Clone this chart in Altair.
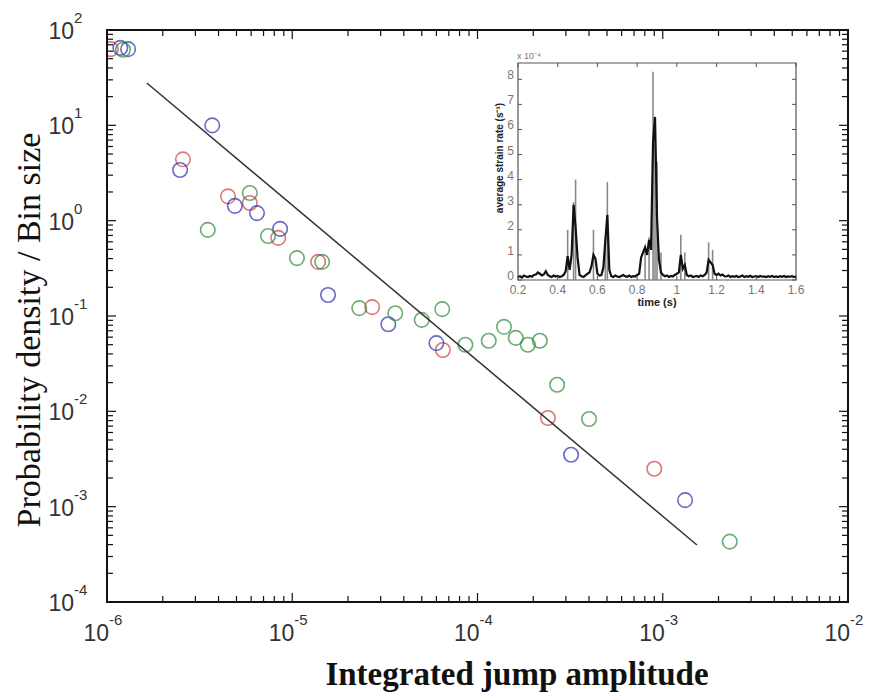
import altair as alt
import pandas as pd

# ---------------- main scatter data ----------------
red_x = [1.05e-6, 2.57e-6, 4.5e-6, 5.9e-6, 8.4e-6, 1.38e-5, 2.7e-5, 6.5e-5, 2.4e-4, 9.0e-4]
red_y = [63, 4.4, 1.8, 1.53, 0.66, 0.37, 0.124, 0.044, 0.0085, 0.0025]
blue_x = [1.18e-6, 1.3e-6, 3.7e-6, 2.48e-6, 4.9e-6, 6.45e-6, 8.6e-6, 1.56e-5, 3.3e-5, 6.0e-5, 3.2e-4, 1.32e-3]
blue_y = [65, 63, 10, 3.4, 1.43, 1.2, 0.82, 0.166, 0.082, 0.052, 0.0035, 0.00117]
green_x = [1.22e-6, 3.5e-6, 5.9e-6, 7.4e-6, 1.06e-5, 1.45e-5, 2.3e-5, 3.6e-5, 5.0e-5, 6.45e-5,
           8.6e-5, 1.15e-4, 1.39e-4, 1.61e-4, 1.87e-4, 2.17e-4, 2.69e-4, 4.0e-4, 2.3e-3]
green_y = [62, 0.8, 1.95, 0.69, 0.405, 0.37, 0.121, 0.107, 0.091, 0.118,
           0.05, 0.055, 0.077, 0.059, 0.05, 0.055, 0.019, 0.0083, 0.00043]
fit_x = [1.64e-6, 1.53e-3]
fit_y = [27.8, 3.96e-4]

x_major = [1e-6, 1e-5, 1e-4, 1e-3, 1e-2]
x_exp = ["-6", "-5", "-4", "-3", "-2"]
y_major = [1e-4, 1e-3, 1e-2, 1e-1, 1e0, 1e1, 1e2]
y_exp = ["-4", "-3", "-2", "-1", "0", "1", "2"]
mult = [2, 3, 4, 5, 6, 7, 8, 9]
x_minor = [m * d for d in [1e-6, 1e-5, 1e-4, 1e-3] for m in mult]
y_minor = [m * d for d in [1e-4, 1e-3, 1e-2, 1e-1, 1e0, 1e1] for m in mult]

# ---------------- inset data (x 1e-4) ----------------
inset_t = [round(0.2 + 0.01 * i, 2) for i in range(141)]
inset_black = [
    0.12, 0.15, 0.10, 0.18, 0.14, 0.12, 0.16, 0.13, 0.20, 0.22,
    0.30, 0.25, 0.18, 0.22, 0.35, 0.20, 0.15, 0.12, 0.18, 0.14,
    0.16, 0.12, 0.15, 0.20, 0.35, 0.95, 0.40, 1.00, 3.00, 2.10,
    0.90, 0.20, 0.15, 0.12, 0.18, 0.25, 0.30, 0.55, 1.00, 0.85,
    0.25, 0.18, 0.20, 0.50, 1.60, 2.60, 0.40, 0.15, 0.12, 0.18,
    0.14, 0.12, 0.16, 0.20, 0.15, 0.13, 0.18, 0.12, 0.15, 0.14,
    0.20, 0.25, 0.90, 1.10, 1.30, 1.00, 1.60, 1.20, 5.50, 6.50,
    2.50, 0.80, 0.30, 0.20, 0.15, 0.18, 0.12, 0.16, 0.14, 0.20,
    0.25, 0.30, 1.00, 0.45, 0.60, 0.20, 0.15, 0.18, 0.12, 0.14,
    0.16, 0.12, 0.18, 0.15, 0.20, 0.30, 0.80, 0.70, 0.60, 0.25,
    0.20, 0.25, 0.18, 0.22, 0.15, 0.14, 0.18, 0.12, 0.15, 0.13,
    0.16, 0.12, 0.14, 0.18, 0.12, 0.15, 0.13, 0.17, 0.12, 0.14,
    0.15, 0.12, 0.16, 0.13, 0.14, 0.12, 0.15, 0.13, 0.16, 0.12,
    0.14, 0.12, 0.15, 0.13, 0.16, 0.12, 0.14, 0.13, 0.15, 0.12, 0.14,
]
spike_t = [0.45, 0.48, 0.49, 0.58, 0.64, 0.65, 0.84, 0.86, 0.88, 0.89, 0.90, 0.92, 1.02, 1.04, 1.16, 1.18]
spike_v = [2.0, 3.1, 4.0, 2.0, 1.7, 3.9, 1.2, 1.7, 8.3, 6.5, 4.7, 1.1, 1.8, 1.1, 1.5, 1.2]
inset_xticks = [0.2, 0.4, 0.6, 0.8, 1.0, 1.2, 1.4, 1.6]
inset_xlabels = ["0.2", "0.4", "0.6", "0.8", "1", "1.2", "1.4", "1.6"]
inset_yticks = [0, 1, 2, 3, 4, 5, 6, 7, 8]

W, H = 741, 572
LABEL_FONT = "Liberation Sans Narrow, Liberation Sans, Arial"

xs = alt.Scale(type="log", domain=[1e-6, 1e-2], nice=False)
ys = alt.Scale(type="log", domain=[1e-4, 1e2], nice=False)

pts = pd.DataFrame({
    "x": red_x + blue_x + green_x,
    "y": red_y + blue_y + green_y,
    "s": ["red"] * len(red_x) + ["blue"] * len(blue_x) + ["green"] * len(green_x),
})

scatter = alt.Chart(pts).mark_point(shape="circle", filled=False, size=210, strokeWidth=1.6, clip=True).encode(
    x=alt.X("x:Q", scale=xs, axis=None),
    y=alt.Y("y:Q", scale=ys, axis=None),
    color=alt.Color("s:N", scale=alt.Scale(domain=["red", "blue", "green"],
                                           range=["#d0403f", "#2b2bb0", "#2f8a3c"]), legend=None),
)

fit = alt.Chart(pd.DataFrame({"x": fit_x, "y": fit_y})).mark_line(color="#333", strokeWidth=1.5).encode(
    x=alt.X("x:Q", scale=xs, axis=None), y=alt.Y("y:Q", scale=ys, axis=None))


def xticks(vals, length):
    df = pd.DataFrame({"v": vals})
    b = alt.Chart(df).mark_rule(color="#111", strokeWidth=1.2).encode(
        x=alt.X("v:Q", scale=xs, axis=None), y=alt.value(H), y2=alt.value(H - length))
    t = alt.Chart(df).mark_rule(color="#111", strokeWidth=1.2).encode(
        x=alt.X("v:Q", scale=xs, axis=None), y=alt.value(0), y2=alt.value(length))
    return [b, t]


def yticks(vals, length):
    df = pd.DataFrame({"v": vals})
    l = alt.Chart(df).mark_rule(color="#111", strokeWidth=1.2).encode(
        y=alt.Y("v:Q", scale=ys, axis=None), x=alt.value(0), x2=alt.value(length))
    r = alt.Chart(df).mark_rule(color="#111", strokeWidth=1.2).encode(
        y=alt.Y("v:Q", scale=ys, axis=None), x=alt.value(W), x2=alt.value(W - length))
    return [l, r]


frame_main = alt.Chart(pd.DataFrame({"k": [0]})).mark_rect(fill=None, stroke="#111", strokeWidth=2).encode(
    x=alt.value(0), x2=alt.value(W), y=alt.value(0), y2=alt.value(H))

xl = pd.DataFrame({"v": x_major, "e": x_exp, "b": ["10"] * len(x_major)})
yl = pd.DataFrame({"v": y_major, "e": y_exp, "b": ["10"] * len(y_major)})
xlab_base = alt.Chart(xl).mark_text(font=LABEL_FONT, fontSize=23, color="#333", align="right",
                                    baseline="middle", dx=2).encode(
    x=alt.X("v:Q", scale=xs, axis=None), y=alt.value(H + 32), text="b:N")
xlab_exp = alt.Chart(xl).mark_text(font=LABEL_FONT, fontSize=15, color="#333", align="left",
                                   baseline="middle", dx=2).encode(
    x=alt.X("v:Q", scale=xs, axis=None), y=alt.value(H + 18), text="e:N")
ylab_base = alt.Chart(yl).mark_text(font=LABEL_FONT, fontSize=23, color="#333", align="right",
                                    baseline="middle", dy=2).encode(
    y=alt.Y("v:Q", scale=ys, axis=None), x=alt.value(-33), text="b:N")
ylab_exp = alt.Chart(yl).mark_text(font=LABEL_FONT, fontSize=15, color="#333", align="left",
                                   baseline="middle", dy=-12).encode(
    y=alt.Y("v:Q", scale=ys, axis=None), x=alt.value(-33), text="e:N")

ytitle = alt.Chart(pd.DataFrame({"t": ["Probability density / Bin size"]})).mark_text(
    font="Liberation Serif", fontSize=34, angle=270, color="#111").encode(
    text="t:N", x=alt.value(-77), y=alt.value(300))
xtitle = alt.Chart(pd.DataFrame({"t": ["Integrated jump amplitude"]})).mark_text(
    font="Liberation Serif", fontSize=33, fontWeight="bold", color="#111").encode(
    text="t:N", x=alt.value(410), y=alt.value(645))

main = alt.layer(scatter, fit, *xticks(x_major, 9), *xticks(x_minor, 6),
                 *yticks(y_major, 9), *yticks(y_minor, 6), frame_main,
                 xlab_base, xlab_exp, ylab_base, ylab_exp, ytitle, xtitle)

# ---------------- inset ----------------
xi = alt.Scale(domain=[0.2, 1.6], range=[411, 689], nice=False, zero=False)
yi = alt.Scale(domain=[0, 8.65], range=[250, 33], nice=False, zero=False)

frame = alt.Chart(pd.DataFrame({"a": [0.2], "b": [1.6], "c": [0.0], "d": [8.65]})).mark_rect(
    fill="white", stroke="#555", strokeWidth=1.2).encode(
    x=alt.X("a:Q", scale=xi, axis=None), x2="b:Q",
    y=alt.Y("c:Q", scale=yi, axis=None), y2="d:Q")

spikes = alt.Chart(pd.DataFrame({"t": spike_t, "v": spike_v, "z": [0.0] * len(spike_t)})).mark_rule(
    color="#888", strokeWidth=1.6).encode(
    x=alt.X("t:Q", scale=xi, axis=None), y=alt.Y("z:Q", scale=yi, axis=None), y2="v:Q")

series = alt.Chart(pd.DataFrame({"t": inset_t, "v": inset_black})).mark_line(
    color="#111", strokeWidth=2.2).encode(
    x=alt.X("t:Q", scale=xi, axis=None), y=alt.Y("v:Q", scale=yi, axis=None))

ixdf = pd.DataFrame({"t": inset_xticks, "lab": inset_xlabels})
iydf = pd.DataFrame({"v": inset_yticks, "lab": [str(v) for v in inset_yticks]})
ix_tb = alt.Chart(ixdf).mark_rule(color="#555").encode(
    x=alt.X("t:Q", scale=xi, axis=None), y=alt.value(250), y2=alt.value(246))
ix_tt = alt.Chart(ixdf).mark_rule(color="#555").encode(
    x=alt.X("t:Q", scale=xi, axis=None), y=alt.value(33), y2=alt.value(37))
iy_tl = alt.Chart(iydf).mark_rule(color="#555").encode(
    y=alt.Y("v:Q", scale=yi, axis=None), x=alt.value(411), x2=alt.value(415))
iy_tr = alt.Chart(iydf).mark_rule(color="#555").encode(
    y=alt.Y("v:Q", scale=yi, axis=None), x=alt.value(689), x2=alt.value(685))
ix_lab = alt.Chart(ixdf).mark_text(font="Liberation Sans", fontSize=12, color="#777", baseline="top").encode(
    x=alt.X("t:Q", scale=xi, axis=None), y=alt.value(255), text="lab:N")
iy_lab = alt.Chart(iydf).mark_text(font="Liberation Sans", fontSize=12, color="#777", align="right",
                                   baseline="middle", dy=-4).encode(
    y=alt.Y("v:Q", scale=yi, axis=None), x=alt.value(407), text="lab:N")
iexp = alt.Chart(pd.DataFrame({"t": ["x 10⁻⁴"]})).mark_text(
    font="Liberation Sans", fontSize=9, color="#777", align="left").encode(
    text="t:N", x=alt.value(410), y=alt.value(26))
iytitle = alt.Chart(pd.DataFrame({"t": ["average strain rate (s⁻¹)"]})).mark_text(
    font="Liberation Sans", fontSize=10, fontWeight="bold", angle=270, color="#222").encode(
    text="t:N", x=alt.value(393), y=alt.value(128))
ixtitle = alt.Chart(pd.DataFrame({"t": ["time (s)"]})).mark_text(
    font="Liberation Sans", fontSize=11, fontWeight="bold", color="#222").encode(
    text="t:N", x=alt.value(550), y=alt.value(273))

inset = alt.layer(frame, spikes, series, ix_tb, ix_tt, iy_tl, iy_tr, ix_lab, iy_lab, iexp, iytitle, ixtitle)

chart = alt.layer(main, inset).resolve_scale(x="independent", y="independent").properties(
    width=W, height=H, autosize="none",
    padding={"left": 99, "top": 22, "right": 18, "bottom": 92},
).configure_view(stroke=None).configure(background="white")

chart.save("out.html", embed_options={"renderer": "svg", "actions": False})
